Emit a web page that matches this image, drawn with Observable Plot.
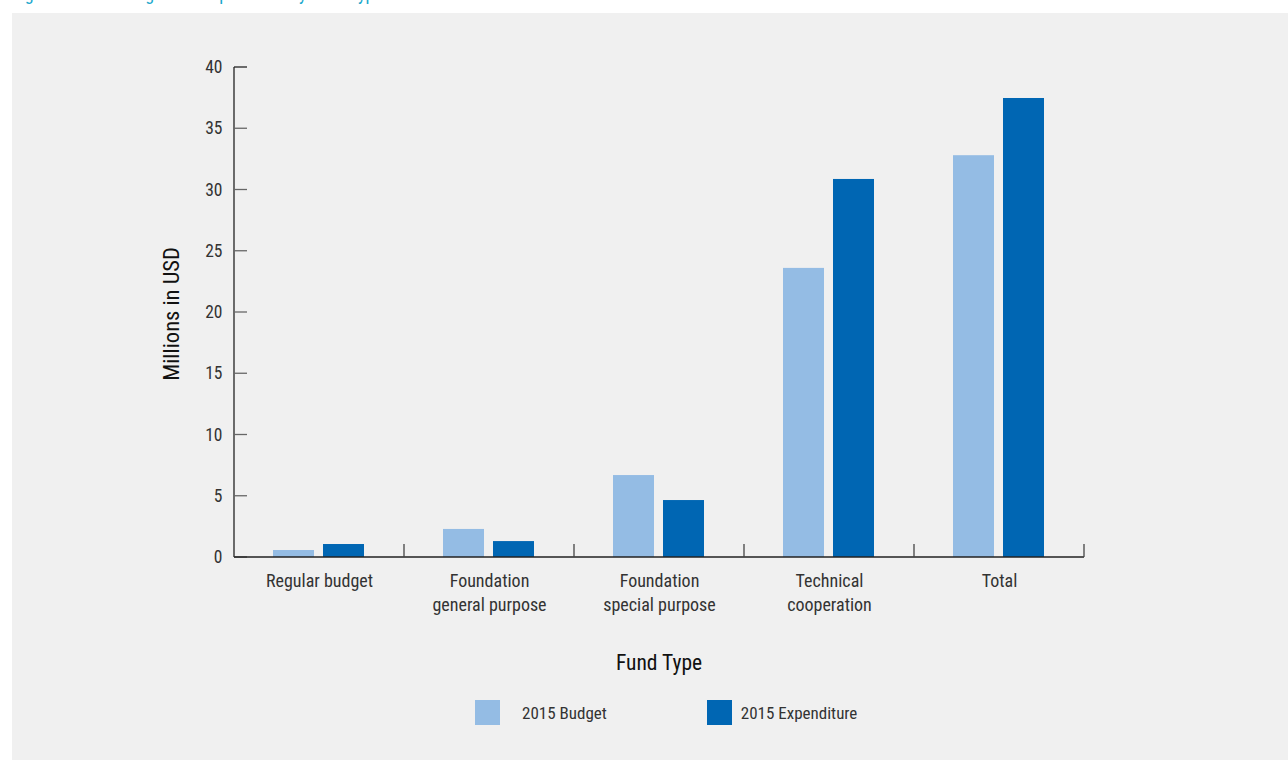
<!DOCTYPE html>
<html>
<head>
<meta charset="utf-8">
<script src="https://cdn.jsdelivr.net/npm/d3@7"></script>
<script src="https://cdn.jsdelivr.net/npm/@observablehq/plot@0.6"></script>
<style>
  html, body { margin: 0; padding: 0; background: #ffffff; width: 1288px; height: 760px; overflow: hidden; }
  body { font-family: "Roboto Condensed", "Liberation Sans Narrow", "DejaVu Sans Condensed", "Arial Narrow", Roboto, sans-serif; position: relative; }
  #title { position: absolute; left: 12px; top: -17px; color: #1aa7cc; font-size: 18px; white-space: nowrap; }
  #panel { position: absolute; left: 12px; top: 13px; width: 1276px; height: 747px; background: #f0f0f0; }
  #chart { position: absolute; left: -12px; top: -13px; }
  #legend { position: absolute; top: 687px; left: 463px; display: flex; align-items: center; font-size: 17px; color: #333; }
  .item { display: flex; align-items: center; }
  .sw { width: 25px; height: 25px; display: inline-block; }
</style>
</head>
<body>
<div id="title">Figure 4. 2015 Budget and Expenditure by Fund Type</div>
<div id="panel">
  <div id="chart"></div>
  <div id="legend"></div>
</div>
<script>
const categories = ["Regular budget", "Foundation\ngeneral purpose", "Foundation\nspecial purpose", "Technical\ncooperation", "Total"];
const series = ["2015 Budget", "2015 Expenditure"];
const budget = [0.57, 2.29, 6.69, 23.6, 32.8];
const expenditure = [1.06, 1.3, 4.65, 30.86, 37.47];
const yTicks = [0, 5, 10, 15, 20, 25, 30, 35, 40];
const colors = ["#94bce4", "#0066b3"];

const data = [];
categories.forEach((c, i) => {
  data.push({category: c, series: series[0], value: budget[i]});
  data.push({category: c, series: series[1], value: expenditure[i]});
});

const plot = Plot.plot({
  width: 1288,
  height: 680,
  marginLeft: 233,
  marginRight: 203,
  marginTop: 67,
  marginBottom: 123,
  style: {background: "transparent", fontFamily: "inherit", color: "#333"},
  fx: {domain: categories, padding: 0, axis: null},
  x: {domain: series, paddingInner: 0.176, paddingOuter: 0.76, axis: null},
  y: {domain: [0, 40]},
  color: {domain: series, range: colors},
  marks: [
    Plot.barY(data, {fx: "category", x: "series", y: "value", fill: "series"}),
    Plot.axisFx({anchor: "bottom", tickSize: 0, tickPadding: 12, fontSize: 18, lineHeight: 1.35, label: null, fill: "#333"}),
    Plot.axisY({ticks: yTicks, tickSize: 0, tickPadding: 12, fontSize: 17.5, label: null, fill: "#333"})
  ]
});

const svg = d3.select(plot);
const fx = plot.scale("fx");
const y = plot.scale("y");
const bw = fx.bandwidth;
const x0 = fx.apply(categories[0]);
const xEnd = fx.apply(categories[categories.length - 1]) + bw;
const y0 = y.apply(0);
const yTop = y.apply(40);
const g = svg.append("g").attr("stroke-width", 1.3);
// y axis line and inward ticks
g.append("line").attr("x1", x0).attr("x2", x0).attr("y1", yTop).attr("y2", y0).attr("stroke", "#222");
yTicks.forEach(t => {
  g.append("line").attr("x1", x0).attr("x2", x0 + 13).attr("y1", y.apply(t)).attr("y2", y.apply(t))
    .attr("stroke", t === 40 ? "#222" : "#666");
});
// x axis line and boundary ticks
g.append("line").attr("x1", x0).attr("x2", xEnd).attr("y1", y0).attr("y2", y0).attr("stroke", "#222");
categories.forEach(c => {
  const xb = fx.apply(c) + bw;
  g.append("line").attr("x1", xb).attr("x2", xb).attr("y1", y0).attr("y2", y0 - 13).attr("stroke", "#444");
});
// axis titles
svg.append("text").attr("transform", `translate(${x0 - 61},${(y0 + yTop) / 2 + 2}) rotate(-90)`)
  .attr("text-anchor", "middle").attr("dominant-baseline", "middle")
  .attr("font-size", 22.5).attr("fill", "#111").text("Millions in USD");
svg.append("text").attr("x", (x0 + xEnd) / 2).attr("y", y0 + 107)
  .attr("text-anchor", "middle").attr("dominant-baseline", "middle")
  .attr("font-size", 21.5).attr("fill", "#111").text("Fund Type");

document.getElementById("chart").appendChild(plot);

const legend = d3.select("#legend");
series.forEach((s, i) => {
  const it = legend.append("div").attr("class", "item").style("margin-right", i === 0 ? "100px" : "0px");
  it.append("span").attr("class", "sw").style("background", colors[i]);
  it.append("span").style("margin-left", i === 0 ? "22px" : "9px").text(s);
});
</script>
</body>
</html>
